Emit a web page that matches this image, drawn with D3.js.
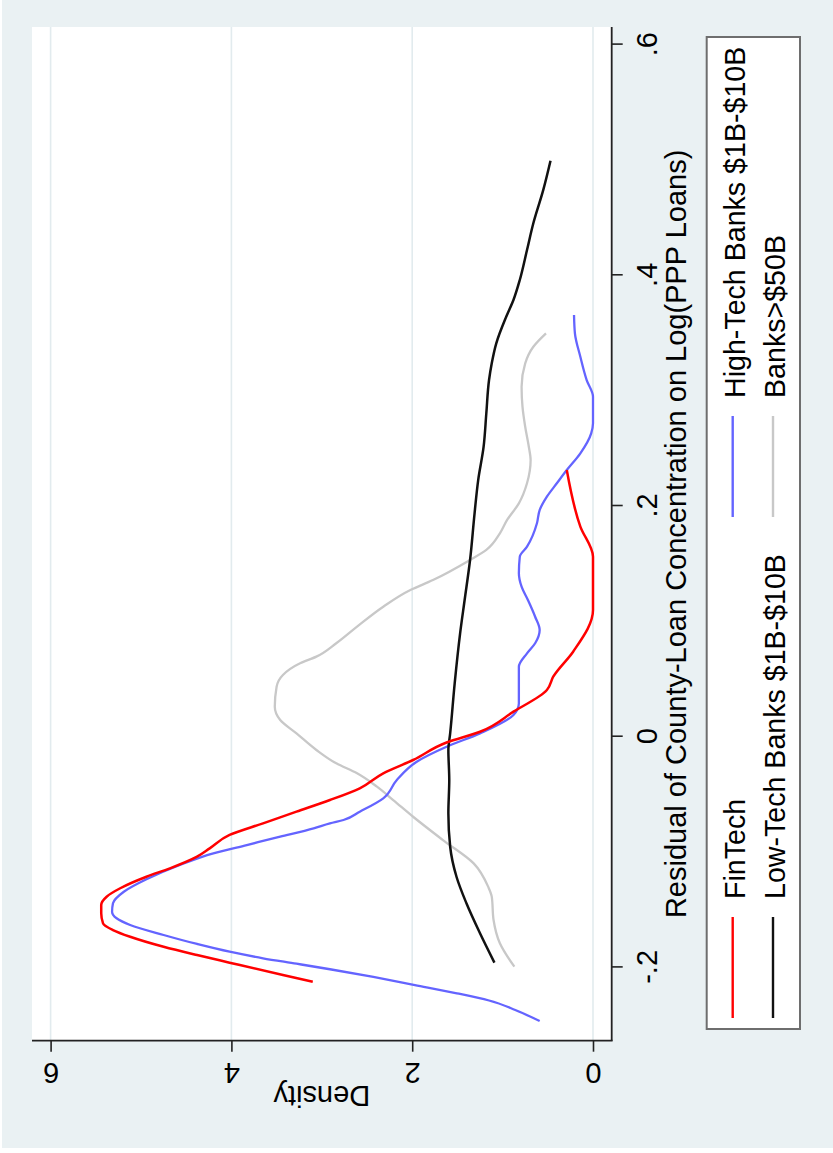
<!DOCTYPE html>
<html>
<head>
<meta charset="utf-8">
<script src="https://cdn.jsdelivr.net/npm/d3@7"></script>
<style>
  html, body { margin: 0; padding: 0; background: #ffffff; }
  svg { display: block; }
  text { font-family: "Liberation Sans", Arial, sans-serif; fill: #000; }
</style>
</head>
<body>
<div id="chart"></div>
<script>
// Kernel density of residual county-loan concentration, by lender group.
// Each series: [residual, density]
const fintech = [
  [-0.2124, 3.10], [-0.2066, 3.43], [-0.1959, 4.02], [-0.1893, 4.38],
  [-0.1821, 4.75], [-0.1734, 5.12], [-0.1676, 5.31], [-0.1618, 5.42], [-0.1531, 5.44],
  [-0.1459, 5.44], [-0.1387, 5.38], [-0.1314, 5.23], [-0.1214, 4.94], [-0.1141, 4.68],
  [-0.1040, 4.38], [-0.0968, 4.24], [-0.0852, 4.02], [-0.0751, 3.65], [-0.0650, 3.28],
  [-0.0549, 2.91], [-0.0447, 2.58], [-0.0317, 2.32], [-0.0202, 1.99], [-0.0050, 1.62],
  [0.0043, 1.25], [0.0217, 0.88], [0.0405, 0.51], [0.0520, 0.44], [0.0737, 0.22],
  [0.1098, 0.00], [0.1560, 0.00], [0.1821, 0.14], [0.2312, 0.29]
];
const highTech = [
  [-0.2465, 0.59], [-0.2369, 0.86], [-0.2287, 1.15], [-0.2222, 1.52], [-0.2153, 1.97],
  [-0.2083, 2.43], [-0.2016, 2.91], [-0.1968, 3.28], [-0.1921, 3.65], [-0.1864, 4.02],
  [-0.1797, 4.38], [-0.1719, 4.75], [-0.1632, 5.12], [-0.1574, 5.27], [-0.1517, 5.32],
  [-0.1444, 5.31], [-0.1344, 5.19], [-0.1236, 4.94], [-0.1112, 4.57], [-0.1011, 4.20],
  [-0.0939, 3.83], [-0.0867, 3.46], [-0.0794, 3.09], [-0.0751, 2.91], [-0.0722, 2.76],
  [-0.0650, 2.58], [-0.0534, 2.32], [-0.0375, 2.17], [-0.0217, 1.95], [-0.0087, 1.62],
  [0.0029, 1.25], [0.0188, 0.88], [0.0290, 0.82], [0.0607, 0.82], [0.0723, 0.73],
  [0.0810, 0.64], [0.0925, 0.59], [0.1040, 0.64], [0.1185, 0.72], [0.1300, 0.79],
  [0.1417, 0.82], [0.1560, 0.81], [0.1647, 0.73], [0.1850, 0.62], [0.1965, 0.59],
  [0.2081, 0.51], [0.2197, 0.40], [0.2312, 0.29], [0.2457, 0.14], [0.2630, 0.02],
  [0.2717, 0.00], [0.2948, 0.00], [0.3092, 0.07], [0.3294, 0.14], [0.3497, 0.20],
  [0.3656, 0.21]
];
const lowTech = [
  [-0.1959, 1.09], [-0.1704, 1.25], [-0.1444, 1.40], [-0.1214, 1.51], [-0.0954, 1.58],
  [-0.0664, 1.60], [-0.0375, 1.59], [-0.0115, 1.60], [0.0029, 1.58], [0.0463, 1.53],
  [0.0896, 1.47], [0.1185, 1.42], [0.1532, 1.36], [0.1937, 1.31], [0.2225, 1.27],
  [0.2514, 1.21], [0.2804, 1.18], [0.3092, 1.15], [0.3237, 1.12], [0.3410, 1.07],
  [0.3641, 0.96], [0.3786, 0.88], [0.3959, 0.81], [0.4219, 0.73], [0.4451, 0.66],
  [0.4740, 0.55], [0.4993, 0.47]
];
const bigBanks = [
  [-0.1994, 0.87], [-0.1791, 1.03], [-0.1589, 1.10], [-0.1387, 1.12], [-0.1300, 1.16],
  [-0.1098, 1.32], [-0.0896, 1.66], [-0.0694, 1.99], [-0.0549, 2.21], [-0.0433, 2.39],
  [-0.0317, 2.61], [-0.0231, 2.84], [-0.0115, 3.06], [0.0029, 3.28], [0.0145, 3.46],
  [0.0260, 3.52], [0.0433, 3.50], [0.0535, 3.43], [0.0636, 3.24], [0.0694, 3.06],
  [0.0810, 2.84], [0.0954, 2.61], [0.1127, 2.32], [0.1272, 2.02], [0.1358, 1.77],
  [0.1532, 1.36], [0.1619, 1.18], [0.1763, 1.03], [0.1879, 0.95], [0.2023, 0.82],
  [0.2197, 0.73], [0.2399, 0.69], [0.2514, 0.71], [0.2687, 0.75], [0.2861, 0.78],
  [0.3034, 0.79], [0.3237, 0.75], [0.3381, 0.66], [0.3497, 0.52]
];

const residTicks = [-0.2, 0, 0.2, 0.4, 0.6];
const residTickLabels = ["-.2", "0", ".2", ".4", ".6"];
const densityTicks = [0, 2, 4, 6];
const densityTickLabels = ["0", "2", "4", "6"];

const seriesNames = ["FinTech", "High-Tech Banks $1B-$10B", "Low-Tech Banks $1B-$10B", "Banks>$50B"];
const seriesColors = ["#ff0000", "#6464ff", "#111111", "#c8c8c8"];

const xTitle = "Residual of County-Loan Concentration on Log(PPP Loans)";
const yTitle = "Density";

// Page is drawn as a landscape graph turned a quarter turn counter-clockwise.
const PAGE_W = 833, PAGE_H = 1153;

const svg = d3.select("#chart").append("svg")
  .attr("width", PAGE_W).attr("height", PAGE_H);

svg.append("rect").attr("x", 2).attr("y", 0)
  .attr("width", PAGE_W - 2).attr("height", PAGE_H - 5)
  .attr("fill", "#eaf1f3");

const g = svg.append("g")
  .attr("transform", `translate(0,${PAGE_H}) rotate(-90)`);

// Plot region in landscape frame
const plot = { left: 112.3, right: 1126, top: 32, bottom: 611.7 };

const x = d3.scaleLinear().domain([-0.2, 0.6]).range([185.6, 1108.4]);
const y = d3.scaleLinear().domain([0, 6]).range([593, 50.6]);

g.append("rect")
  .attr("x", plot.left).attr("y", plot.top)
  .attr("width", plot.right - plot.left).attr("height", plot.bottom - plot.top)
  .attr("fill", "#ffffff");

// Horizontal grid at density ticks
g.append("g").selectAll("line").data(densityTicks).join("line")
  .attr("x1", plot.left).attr("x2", plot.right)
  .attr("y1", d => y(d)).attr("y2", d => y(d))
  .attr("stroke", "#e2ebee").attr("stroke-width", 1.6);

// Density curves
const line = d3.line()
  .x(d => x(d[0])).y(d => y(d[1]))
  .curve(d3.curveMonotoneX);

const drawOrder = [
  { data: bigBanks, color: seriesColors[3], w: 2.3 },
  { data: highTech, color: seriesColors[1], w: 2.3 },
  { data: lowTech, color: seriesColors[2], w: 2.5 },
  { data: fintech, color: seriesColors[0], w: 2.5 }
];
g.append("g").selectAll("path").data(drawOrder).join("path")
  .attr("d", d => line(d.data))
  .attr("fill", "none")
  .attr("stroke", d => d.color)
  .attr("stroke-width", d => d.w)
  .attr("stroke-linejoin", "round")
  .attr("stroke-linecap", "butt");

// Axes
const xAxis = d3.axisBottom(x)
  .tickValues(residTicks)
  .tickFormat((d, i) => residTickLabels[i])
  .tickSize(11).tickSizeOuter(0);
const gx = g.append("g").attr("transform", `translate(0,${plot.bottom})`).call(xAxis);
gx.select(".domain").remove();
gx.selectAll(".tick line").attr("stroke", "#222").attr("stroke-width", 1.6);
gx.selectAll(".tick text")
  .attr("y", 45.3).attr("dy", null)
  .style("font-size", "29px").style("font-family", "'Liberation Sans', Arial, sans-serif")
  .attr("fill", "#000");

const yAxis = d3.axisLeft(y)
  .tickValues(densityTicks)
  .tickFormat((d, i) => densityTickLabels[i])
  .tickSize(11).tickSizeOuter(0);
const gy = g.append("g").attr("transform", `translate(${plot.left},0)`).call(yAxis);
gy.select(".domain").remove();
gy.selectAll(".tick line").attr("stroke", "#222").attr("stroke-width", 1.6);
gy.selectAll(".tick text")
  .attr("x", null).attr("dy", null)
  .attr("text-anchor", "middle")
  .attr("transform", "translate(-22.3,0) rotate(-90)")
  .style("font-size", "29px").style("font-family", "'Liberation Sans', Arial, sans-serif")
  .attr("fill", "#000");

// Axis lines spanning the plot region
g.append("line")
  .attr("x1", plot.left).attr("x2", plot.right)
  .attr("y1", plot.bottom).attr("y2", plot.bottom)
  .attr("stroke", "#222").attr("stroke-width", 1.8);
g.append("line")
  .attr("x1", plot.left).attr("x2", plot.left)
  .attr("y1", plot.top).attr("y2", plot.bottom + 0.9)
  .attr("stroke", "#222").attr("stroke-width", 1.8);

// Axis titles
g.append("text")
  .attr("x", (plot.left + plot.right) / 2).attr("y", 686)
  .attr("text-anchor", "middle")
  .style("font-size", "29px")
  .text(xTitle);

g.append("text")
  .attr("transform", `translate(67,${(plot.top + plot.bottom) / 2}) rotate(-90)`)
  .attr("text-anchor", "middle")
  .style("font-size", "29px")
  .text(yTitle);

// Legend: two columns, two rows
const legend = g.append("g");
legend.append("rect")
  .attr("x", 124).attr("y", 706.7)
  .attr("width", 1116 - 124).attr("height", 800 - 706.7)
  .attr("fill", "#ffffff")
  .attr("stroke", "#6e6e6e").attr("stroke-width", 2);

const legendItems = seriesNames.map((name, i) => ({
  name, color: seriesColors[i],
  keyX: i % 2 === 0 ? 135 : 636,
  keyY: i < 2 ? 732.7 : 773,
  textY: i < 2 ? 745 : 785
}));
const li = legend.selectAll("g.item").data(legendItems).join("g").attr("class", "item");
li.append("line")
  .attr("x1", d => d.keyX).attr("x2", d => d.keyX + 101)
  .attr("y1", d => d.keyY).attr("y2", d => d.keyY)
  .attr("stroke", d => d.color).attr("stroke-width", 2.4);
li.append("text")
  .attr("x", d => d.keyX + 119).attr("y", d => d.textY)
  .style("font-size", "28.6px")
  .text(d => d.name);
</script>
</body>
</html>
